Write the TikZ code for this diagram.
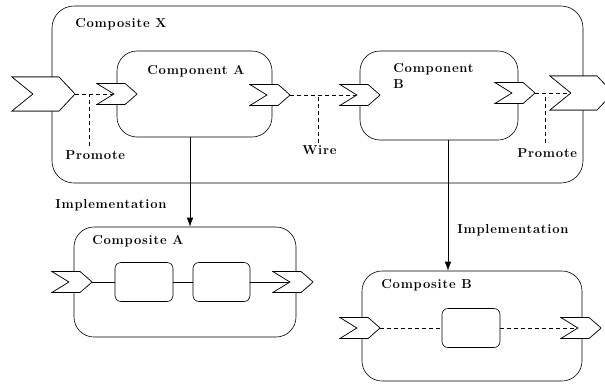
\documentclass[tikz,border=0pt]{standalone}
\usepackage{fontspec}
\setmainfont{Latin Modern Roman}[LetterSpace=6]
\usetikzlibrary{arrows.meta}
\tikzset{
  smallport/.pic={\draw[fill=white] (0,-10.5) -- (28,-10.5) -- (40,0) -- (28,10.5) -- (0,10.5) -- (17,0) -- cycle;
    \coordinate (-tip) at (40,0); \coordinate (-notch) at (17,0);},
  bigport/.pic={\draw[fill=white] (0,-17) -- (47,-17) -- (63,0) -- (47,17) -- (0,17) -- (21,0) -- cycle;
    \coordinate (-tip) at (63,0); \coordinate (-notch) at (21,0);},
}
\begin{document}
\begin{tikzpicture}[x=1pt,y=-1pt,line width=0.6pt,
  box/.style={draw, rounded corners=#1, inner sep=0pt},
  lbl/.style={font=\fontsize{13}{16}\selectfont\bfseries, anchor=base west, inner sep=0pt},
  dsh/.style={dash pattern=on 4pt off 3pt},
  impl/.style={-{Latex[length=9pt,width=6.5pt]}}]
\clip (0,0) rectangle (605,383);
% boxes
\node[box=22pt, minimum width=531pt, minimum height=177pt] (cx) at (317.5,94.5) {};
\node[box=20pt, minimum width=155pt, minimum height=86pt] (ca) at (194.5,94) {};
\node[box=20pt, minimum width=158pt, minimum height=89pt] (cb) at (439,95.5) {};
\node[box=20pt, minimum width=222pt, minimum height=110pt] (compa) at (185,282) {};
\node[box=20pt, minimum width=220pt, minimum height=110pt] (compb) at (472,326) {};
\node[box=6pt, minimum width=58pt, minimum height=39pt] (a1) at (144,282) {};
\node[box=6pt, minimum width=57pt, minimum height=39pt] (a2) at (221.5,282) {};
\node[box=6pt, minimum width=58pt, minimum height=39pt] (b1) at (471,328) {};
% port coordinates (for drawing connectors before ports)
\path (12,94) pic (pl) {bigport};
\path (97,94) pic (pain) {smallport};
\path (250,95) pic (paout) {smallport};
\path (340,95) pic (pbin) {smallport};
\path (495,93) pic (pbout) {smallport};
\path (550,93) pic (pr) {bigport};
\path (52,282) pic (pcain) {smallport};
\path (273,282) pic (pcaout) {smallport};
\path (340,328) pic (pcbin) {smallport};
\path (561,328) pic (pcbout) {smallport};
% connectors
\draw[dsh] (pl-tip) -- (pain-notch);
\draw[dsh] (paout-tip) -- (pbin-notch);
\draw[dsh] (pbout-tip) -- (pr-notch);
\coordinate (v1) at (89,146);
\coordinate (v2) at (318,143);
\coordinate (v3) at (545,143);
\draw[dsh] (v1) -- (v1 |- pl-tip);
\draw[dsh] (v2) -- (v2 |- paout-tip);
\draw[dsh] (v3) -- (v3 |- pbout-tip);
\draw (pcain-tip) -- (a1);
\draw (a1) -- (a2);
\draw (a2) -- (pcaout-notch);
\draw[dsh] (pcbin-tip) -- (b1);
\draw[dsh] (b1) -- (pcbout-notch);
\coordinate (ia) at (190,0);
\coordinate (ib) at (448,0);
\draw[impl] (ia |- ca.south) -- (ia |- compa.north);
\draw[impl] (ib |- cb.south) -- (ib |- compb.north);
% ports on top
\path (12,94) pic {bigport};
\path (97,94) pic {smallport};
\path (250,95) pic {smallport};
\path (340,95) pic {smallport};
\path (495,93) pic {smallport};
\path (550,93) pic {bigport};
\path (52,282) pic {smallport};
\path (273,282) pic {smallport};
\path (340,328) pic {smallport};
\path (561,328) pic {smallport};
% labels
\node[lbl] (lcx) at (75,27) {Composite X};
\node[lbl] (lca) at (147,74) {Component A};
\node[lbl, anchor=north west, align=left] (lcb) at (393,63.5) {Component\\B};
\node[lbl] (lp1) at (65,159) {Promote};
\node[lbl] (lw) at (302,154) {Wire};
\node[lbl] (lp2) at (517,157) {Promote};
\node[lbl] (li1) at (55,208) {Implementation};
\node[lbl] (li2) at (457,233) {Implementation};
\node[lbl] (lcompa) at (92,244) {Composite A};
\node[lbl] (lcompb) at (381,288) {Composite B};
\end{tikzpicture}
\end{document}
